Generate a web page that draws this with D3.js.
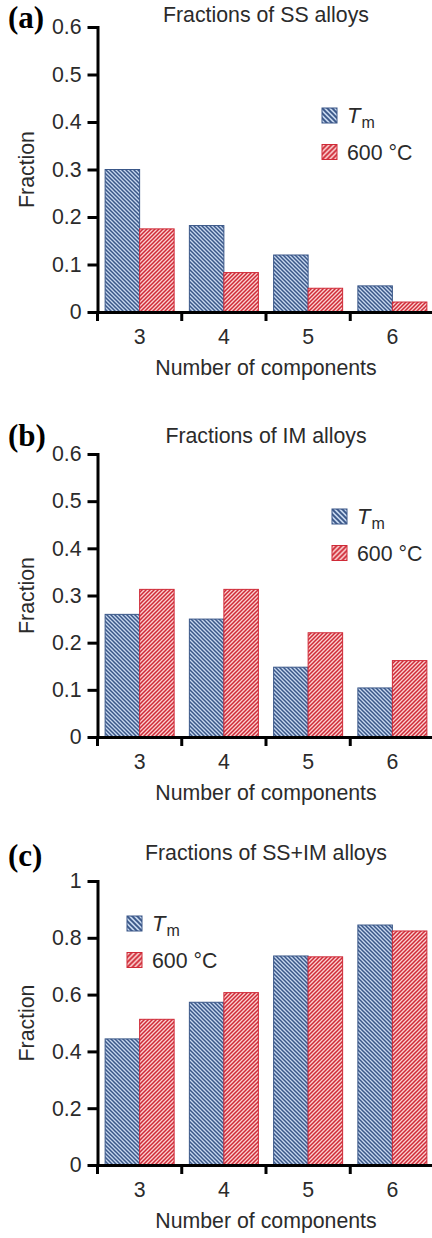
<!DOCTYPE html>
<html>
<head>
<meta charset="utf-8">
<script src="https://cdn.jsdelivr.net/npm/d3@7"></script>
<style>
  html, body { margin: 0; padding: 0; background: #fff; }
  svg { display: block; }
  text { font-family: "Liberation Sans", Arial, Helvetica, sans-serif; fill: #2b2b2b; }
</style>
</head>
<body>
<svg id="chart" width="432" height="1238"></svg>
<script>
// Number of components in the alloy systems
const categories = ["3", "4", "5", "6"];

// Fractions of solid-solution (SS) alloys
const ssTm  = [0.300, 0.182, 0.120, 0.055];
const ss600 = [0.175, 0.083, 0.050, 0.021];

// Fractions of intermetallic (IM) alloys
const imTm  = [0.260, 0.250, 0.148, 0.104];
const im600 = [0.313, 0.313, 0.221, 0.162];

// Fractions of SS+IM alloys
const allTm  = [0.444, 0.573, 0.736, 0.845];
const all600 = [0.513, 0.607, 0.733, 0.824];

// Y tick values
const ticksLow  = [0, 0.1, 0.2, 0.3, 0.4, 0.5, 0.6];
const ticksFull = [0, 0.2, 0.4, 0.6, 0.8, 1];

const seriesNames = ["Tm", "600 °C"];

const FS = 21.3;
const svg = d3.select("#chart");
const defs = svg.append("defs");

// Hatch fills drawn as diagonal strokes in a square tile: blue runs "\", red runs "/"
function hatch(id, dark, light, back, size, sw) {
  const p = defs.append("pattern")
    .attr("id", id)
    .attr("patternUnits", "userSpaceOnUse")
    .attr("width", size)
    .attr("height", size);
  p.append("rect").attr("width", size).attr("height", size).attr("fill", light);
  const s = size;
  const d = back
    ? `M${-s},0 L${s},${2 * s} M0,${-s} L${2 * s},${s} M${-s},${-s} L${2 * s},${2 * s}`
    : `M${-s},${s} L${s},${-s} M0,${2 * s} L${2 * s},0 M${-s},${2 * s} L${2 * s},${-s}`;
  p.append("path").attr("d", d).attr("stroke", dark).attr("stroke-width", sw).attr("fill", "none");
}
const blueDark = "#3a5788", blueLight = "#c6d7ef";
const redDark = "#cf2a37", redLight = "#fbd0d0";
hatch("hatchBlue", blueDark, blueLight, true, 4, 1.5);
hatch("hatchRed", redDark, redLight, false, 4, 1.5);
hatch("hatchBlueKey", blueDark, blueLight, true, 5, 1.9);
hatch("hatchRedKey", redDark, redLight, false, 5, 1.9);

const fills = ["url(#hatchBlue)", "url(#hatchRed)"];
const keyFills = ["url(#hatchBlueKey)", "url(#hatchRedKey)"];
const strokes = [blueDark, redDark];

const panels = [
  { tag: "(a)", title: "Fractions of SS alloys", values: [ssTm, ss600], max: 0.6, ticks: ticksLow,
    top: 27, bottom: 312, titleY: 22, tagY: 28, keyX: 322, keyY: 108 },
  { tag: "(b)", title: "Fractions of IM alloys", values: [imTm, im600], max: 0.6, ticks: ticksLow,
    top: 454, bottom: 737, titleY: 443, tagY: 446, keyX: 332, keyY: 509 },
  { tag: "(c)", title: "Fractions of SS+IM alloys", values: [allTm, all600], max: 1, ticks: ticksFull,
    top: 881, bottom: 1165, titleY: 860, tagY: 866, keyX: 127, keyY: 916 }
];

const left = 97.5, right = 434.5;
const x = d3.scaleBand().domain(categories).range([left, right]).paddingInner(0).paddingOuter(0);
const xs = d3.scaleBand().domain(seriesNames).range([0, x.bandwidth()]).paddingInner(0).paddingOuter(0.221);

const fmt = d => d === 0 ? "0" : (d === 1 ? "1" : d3.format(".1f")(d));

panels.forEach(pn => {
  const g = svg.append("g");
  const y = d3.scaleLinear().domain([0, pn.max]).range([pn.bottom, pn.top]);

  // bars
  pn.values.forEach((vals, si) => {
    g.append("g").selectAll("rect")
      .data(categories.map((c, i) => ({ c, v: vals[i] })))
      .join("rect")
      .attr("x", d => x(d.c) + xs(seriesNames[si]))
      .attr("width", xs.bandwidth())
      .attr("y", d => y(d.v))
      .attr("height", d => y(0) - y(d.v))
      .attr("fill", fills[si])
      .attr("stroke", strokes[si])
      .attr("stroke-width", 1);
  });

  // y axis
  const ya = g.append("g")
    .attr("transform", `translate(${left},0)`)
    .call(d3.axisLeft(y).tickValues(pn.ticks).tickFormat(fmt).tickSize(10).tickPadding(6).tickSizeOuter(0));
  ya.select(".domain").attr("stroke", "#000").attr("stroke-width", 3).attr("stroke-linecap", "square");
  ya.selectAll(".tick line").attr("stroke", "#000").attr("stroke-width", 3);
  ya.selectAll(".tick text").attr("font-size", FS).attr("fill", "#2b2b2b")
    .attr("font-family", "Liberation Sans, Arial, sans-serif");

  // x axis with category labels under band centres
  const xa = g.append("g")
    .attr("transform", `translate(0,${pn.bottom})`)
    .call(d3.axisBottom(x).tickSize(0).tickPadding(17).tickSizeOuter(0));
  xa.select(".domain").attr("stroke", "#000").attr("stroke-width", 3);
  xa.selectAll(".tick text").attr("font-size", FS).attr("fill", "#2b2b2b")
    .attr("font-family", "Liberation Sans, Arial, sans-serif");

  // separator ticks at band edges
  xa.append("g").selectAll("line")
    .data(categories)
    .join("line")
    .attr("x1", d => x(d)).attr("x2", d => x(d))
    .attr("y1", 0).attr("y2", 9)
    .attr("stroke", "#000").attr("stroke-width", 3);

  // axis titles
  g.append("text")
    .attr("x", (left + right) / 2)
    .attr("y", pn.bottom + 63)
    .attr("text-anchor", "middle")
    .attr("font-size", FS)
    .text("Number of components");

  g.append("text")
    .attr("transform", `translate(34,${(pn.top + pn.bottom) / 2}) rotate(-90)`)
    .attr("text-anchor", "middle")
    .attr("font-size", FS)
    .text("Fraction");

  // chart title
  g.append("text")
    .attr("x", (left + right) / 2)
    .attr("y", pn.titleY)
    .attr("text-anchor", "middle")
    .attr("font-size", FS)
    .text(pn.title);

  // panel tag
  g.append("text")
    .attr("x", 8)
    .attr("y", pn.tagY)
    .attr("font-size", 31)
    .attr("font-weight", "bold")
    .style("font-family", "'Liberation Serif', 'Times New Roman', serif")
    .style("fill", "#000")
    .text(pn.tag);

  // legend
  const key = g.append("g").attr("transform", `translate(${pn.keyX},${pn.keyY})`);
  seriesNames.forEach((name, i) => {
    const row = key.append("g").attr("transform", `translate(0,${i * 36.5})`);
    row.append("rect")
      .attr("width", 15).attr("height", 15)
      .attr("fill", keyFills[i]).attr("stroke", strokes[i]).attr("stroke-width", 1);
    const t = row.append("text").attr("x", 25).attr("y", 15).attr("font-size", FS);
    if (i === 0) {
      t.append("tspan").attr("font-style", "italic").attr("font-size", 22).text("T");
      t.append("tspan").attr("font-size", 16).attr("dy", 5).attr("dx", 1).text("m");
    } else {
      t.text(name);
    }
  });
});
</script>
</body>
</html>
